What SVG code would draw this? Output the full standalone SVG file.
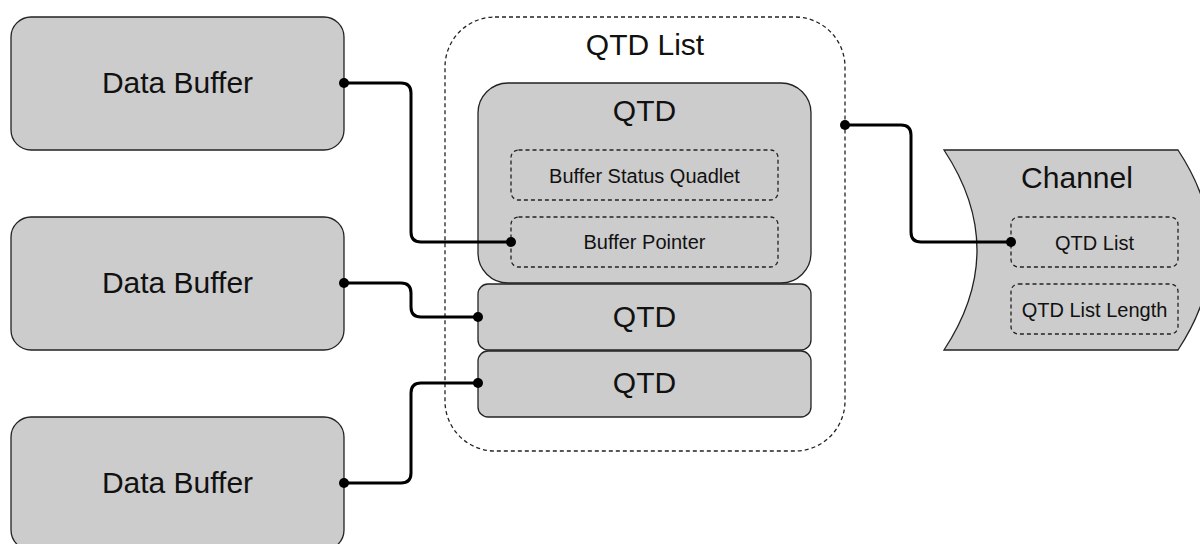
<svg xmlns="http://www.w3.org/2000/svg" width="1200" height="544" viewBox="0 0 1200 544">
<style>
.box{fill:#cccccc;stroke:#222;stroke-width:1.3}
.dash{fill:none;stroke:#222;stroke-width:1.3;stroke-dasharray:4 3}
.big{font-family:"Liberation Sans",Arial,sans-serif;font-size:30px;fill:#111;text-anchor:middle}
.small{font-family:"Liberation Sans",Arial,sans-serif;font-size:20px;fill:#111;text-anchor:middle}
.conn{fill:none;stroke:#000;stroke-width:3;stroke-linejoin:round}
.dot{fill:#000}
</style>
<rect width="1200" height="544" fill="#fff"/>
<g id="data-buffer-1">
<rect class="box" x="11" y="17" width="333" height="133" rx="20"/>
<text class="big" x="177.5" y="93">Data Buffer</text>
</g>
<g id="data-buffer-2">
<rect class="box" x="11" y="217" width="333" height="133" rx="20"/>
<text class="big" x="177.5" y="293">Data Buffer</text>
</g>
<g id="data-buffer-3">
<rect class="box" x="11" y="417" width="333" height="133" rx="20"/>
<text class="big" x="177.5" y="493">Data Buffer</text>
</g>
<g id="qtd-list">
<rect class="dash" x="445" y="17" width="400" height="434" rx="50"/>
<text class="big" x="645" y="55">QTD List</text>
</g>
<g id="qtd-1">
<rect class="box" x="478" y="83" width="333" height="200" rx="30"/>
<text class="big" x="644.5" y="121">QTD</text>
</g>
<g id="buffer-status-quadlet">
<rect class="dash" x="511" y="150" width="267" height="50" rx="7.5"/>
<text class="small" x="644.5" y="183">Buffer Status Quadlet</text>
</g>
<g id="buffer-pointer">
<rect class="dash" x="511" y="217" width="267" height="50" rx="7.5"/>
<text class="small" x="644.5" y="249">Buffer Pointer</text>
</g>
<g id="qtd-2">
<rect class="box" x="478" y="284" width="333" height="66" rx="10"/>
<text class="big" x="644.5" y="327">QTD</text>
</g>
<g id="qtd-3">
<rect class="box" x="478" y="351" width="333" height="66" rx="10"/>
<text class="big" x="644.5" y="393">QTD</text>
</g>
<g id="channel">
<path class="box" d="M944,150 L1178,150 Q1244,250 1178,350 L944,350 Q1010,250 944,150 Z"/>
<text class="big" x="1077" y="188">Channel</text>
</g>
<g id="channel-qtd-list">
<rect class="dash" x="1011" y="217" width="167" height="50" rx="7.5"/>
<text class="small" x="1094.5" y="250">QTD List</text>
</g>
<g id="channel-qtd-list-length">
<rect class="dash" x="1011" y="284" width="167" height="50" rx="7.5"/>
<text class="small" x="1094.5" y="317">QTD List Length</text>
</g>
<g id="connectors">
<path class="conn" d="M344,83 H401 Q411,83 411,93 V232 Q411,242 421,242 H511"/>
<path class="conn" d="M344,283 H401 Q411,283 411,293 V307 Q411,317 421,317 H478"/>
<path class="conn" d="M344,483 H401 Q411,483 411,473 V393 Q411,383 421,383 H478"/>
<path class="conn" d="M845,125 H901 Q911,125 911,135 V232 Q911,242 921,242 H1011"/>
<circle class="dot" cx="344" cy="83" r="5"/>
<circle class="dot" cx="511" cy="242" r="5"/>
<circle class="dot" cx="344" cy="283" r="5"/>
<circle class="dot" cx="478" cy="317" r="5"/>
<circle class="dot" cx="344" cy="483" r="5"/>
<circle class="dot" cx="478" cy="383" r="5"/>
<circle class="dot" cx="845" cy="125" r="5"/>
<circle class="dot" cx="1011" cy="242" r="5"/>
</g>
</svg>
